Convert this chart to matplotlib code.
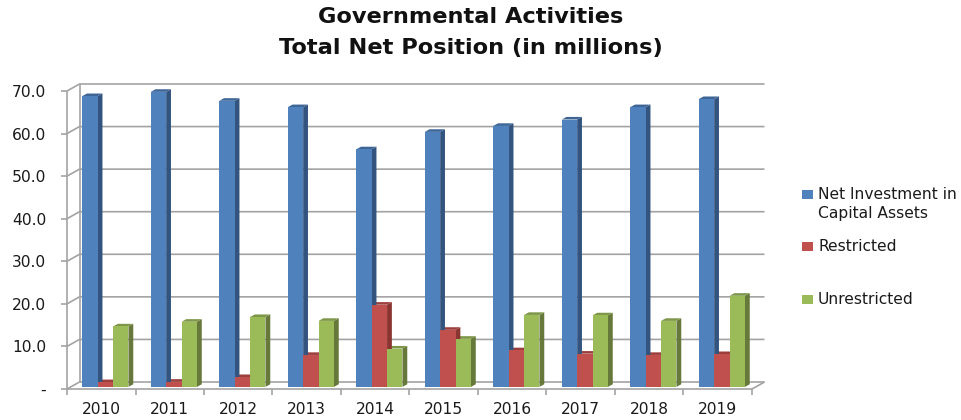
import matplotlib
matplotlib.use("Agg")
import matplotlib.pyplot as plt
from matplotlib.patches import Polygon, Rectangle

# data
years = ["2010", "2011", "2012", "2013", "2014", "2015", "2016", "2017", "2018", "2019"]
net_investment = [68.3, 69.3, 67.2, 65.7, 55.8, 59.9, 61.3, 62.8, 65.7, 67.6]
restricted = [1.1, 1.2, 2.3, 7.5, 19.3, 13.4, 8.6, 7.8, 7.5, 7.7]
unrestricted = [14.2, 15.3, 16.4, 15.5, 9.0, 11.3, 16.9, 16.8, 15.5, 21.4]
y_ticks = [0, 10, 20, 30, 40, 50, 60, 70]
y_labels = ["-", "10.0", "20.0", "30.0", "40.0", "50.0", "60.0", "70.0"]
legend_labels = ["Net Investment in\nCapital Assets", "Restricted", "Unrestricted"]

W, H = 961, 420
grid_col = "#a3a3a3"
txt_col = "#1a1a1a"
# front, side, top colors
blue = ("#4f81bd", "#32547f", "#3d6596")
red = ("#c0504d", "#8a3532", "#9c3f3c")
green = ("#9bbb59", "#67793a", "#7d9648")

fig = plt.figure(figsize=(W / 100, H / 100), dpi=100)
ax = fig.add_axes([67 / W, 1 - 389 / H, 685 / W, 298 / H])
ax.set_xlim(0, 10)
ax.set_ylim(0, 70)
for s in ax.spines.values():
    s.set_visible(False)

# depth of the fake 3d box, in data units
wall_dx = 12.5 / 68.5
wall_dy = 7 / 4.257
bar_dx = 4.8 / 68.5
bar_dy = 2.6 / 4.257
base = 0.5
bar_w = 15.4 / 68.5
group_off = 0.5 + 0.06


def wall_line(xs, ys, z=1):
    ax.plot(xs, ys, color=grid_col, lw=1.2, zorder=z, clip_on=False, solid_capstyle="butt")


# walls and gridlines
for v in y_ticks:
    wall_line([0, wall_dx, 10 + wall_dx], [v, v + wall_dy, v + wall_dy])
wall_line([wall_dx, wall_dx], [wall_dy, 70 + wall_dy])
wall_line([0, 0], [0, 70])
wall_line([0, 10], [0, 0])
wall_line([10, 10 + wall_dx], [0, wall_dy])

# bars, drawn back to front per group
series = [(net_investment, blue, -1), (restricted, red, 0), (unrestricted, green, 1)]
for i in range(len(years)):
    for vals, cols, k in reversed(series):
        left = i + group_off + (k - 0.5) * bar_w
        right = left + bar_w
        top = base + vals[i]
        z = 3 + (1 - k) * 0.1
        ax.add_patch(Polygon([(right, base), (right + bar_dx, base + bar_dy),
                              (right + bar_dx, top + bar_dy), (right, top)],
                             fc=cols[1], ec="none", zorder=z, clip_on=False))
        ax.add_patch(Polygon([(left, top), (left + bar_dx, top + bar_dy),
                              (right + bar_dx, top + bar_dy), (right, top)],
                             fc=cols[2], ec="none", zorder=z, clip_on=False))
    for vals, cols, k in series:
        ax.bar(i + group_off + k * bar_w, vals[i], width=bar_w, bottom=base,
               color=cols[0], zorder=4, clip_on=False)

# ticks
ax.set_yticks(y_ticks)
ax.set_yticklabels(y_labels, fontsize=11.2, color=txt_col)
ax.tick_params(axis="y", length=4, width=1.2, color=grid_col, pad=11)
ax.set_xticks(range(11))
ax.set_xticklabels([""] * 11)
ax.tick_params(axis="x", length=4, width=1.2, color=grid_col)
for i, yr in enumerate(years):
    ax.annotate(yr, (i + 0.5, 0), xytext=(0, -20), textcoords="offset pixels",
                ha="center", va="center", fontsize=11.2, color=txt_col)

# title
fig.text(471 / W, 1 - 17 / H, "Governmental Activities", ha="center", va="center",
         fontsize=16.2, fontweight="bold", color="#111111")
fig.text(471 / W, 1 - 48 / H, "Total Net Position (in millions)", ha="center", va="center",
         fontsize=16.2, fontweight="bold", color="#111111")

# legend, spacing is uneven in the original so placed by hand
legend_y = [194, 246, 299]
legend_cols = [blue[0], red[0], green[0]]
for y, lab, col in zip(legend_y, legend_labels, legend_cols):
    fig.add_artist(Rectangle((802 / W, 1 - (y + 4.5) / H), 11 / W, 9 / H, fc=col, ec="none",
                             transform=fig.transFigure))
    fig.text(818 / W, 1 - (y - 7) / H, lab, ha="left", va="top", fontsize=11.2,
             color=txt_col, linespacing=1.35)

fig.savefig("out.png", dpi=100)
